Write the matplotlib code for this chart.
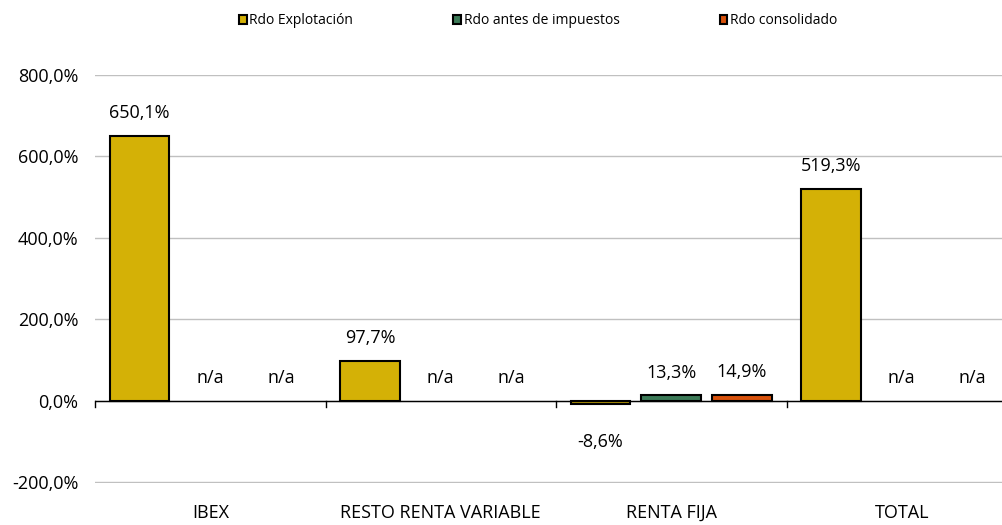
import numpy as np
import matplotlib
matplotlib.use("Agg")
import matplotlib.pyplot as plt
from matplotlib.patches import Patch

categorias = ["IBEX", "RESTO RENTA VARIABLE", "RENTA FIJA", "TOTAL"]
series = ["Rdo Explotación", "Rdo antes de impuestos", "Rdo consolidado"]
explotacion = [650.1, 97.7, -8.6, 519.3]
antes_imp = [None, None, 13.3, None]
consolidado = [None, None, 14.9, None]
colores = ["#D4B106", "#3C7A57", "#D9520C"]

plt.rcParams['font.family'] = ['Open Sans', 'DejaVu Sans']
fs = 13

fig = plt.figure(figsize=(10.02, 5.25), dpi=100)
ax = fig.add_axes([95/1002, 1 - 483/525, 922/1002, (483-75)/525])

x = np.arange(len(categorias))
w = 0.26
off = 0.307
datos = [explotacion, antes_imp, consolidado]
for i, (vals, c) in enumerate(zip(datos, colores)):
    pos = x + (i - 1) * off
    for p, v in zip(pos, vals):
        if v is None:
            ax.text(p, 56, "n/a", ha="center", va="center", fontsize=fs)
            continue
        ax.bar(p, v, w, color=c, edgecolor="black", linewidth=1.5, zorder=3)
        if v >= 0:
            ax.text(p, v + 56, ("%.1f%%" % v).replace(".", ","), ha="center", va="center", fontsize=fs)
        else:
            ax.text(p, v - 92, ("%.1f%%" % v).replace(".", ","), ha="center", va="center", fontsize=fs)

ax.set_ylim(-202, 800)
ax.set_xlim(-0.5, 3.5)
ax.set_yticks([-200, 0, 200, 400, 600, 800])
ax.set_yticklabels([("%.1f%%" % t).replace(".", ",") for t in [-200, 0, 200, 400, 600, 800]], fontsize=fs)
ax.yaxis.grid(True, color="#C0C0C0", linewidth=1, zorder=0)
ax.tick_params(axis="y", length=0, pad=12)
for s in ax.spines.values():
    s.set_visible(False)
ax.axhline(0, color="black", linewidth=1, zorder=4)

ax.set_xticks([])
for b in [-0.5, 0.5, 1.5, 2.5]:
    ax.plot([b, b], [-15, 0], color="black", linewidth=1, clip_on=False, zorder=4)
for xi, cat in zip(x, categorias):
    ax.text(xi, -275, cat, ha="center", va="center", fontsize=fs, clip_on=False)

handles = [Patch(facecolor=c, edgecolor="black", linewidth=1.5) for c in colores]
fig.legend(handles, series, loc="center", bbox_to_anchor=(0.537, 1 - 21/525), ncol=3,
           frameon=False, fontsize=10, handlelength=0.55, handleheight=0.6,
           handletextpad=0.2, columnspacing=7.2, borderpad=0)

fig.savefig("out.png", dpi=100)
